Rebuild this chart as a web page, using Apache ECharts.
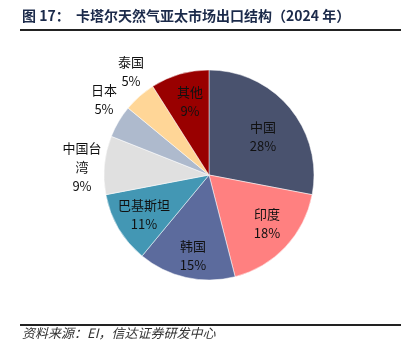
<!DOCTYPE html>
<html><head><meta charset="utf-8">
<style>html,body{margin:0;padding:0;background:#fff}#c{width:408px;height:363px}</style>
<script src="https://cdn.jsdelivr.net/npm/echarts@6/dist/echarts.min.js"></script>
</head><body><div id="c"></div>
<script>
const categories = ['中国', '印度', '韩国', '巴基斯坦', '中国台\n湾', '日本', '泰国', '其他'];
const values = [28, 18, 15, 11, 9, 5, 5, 9];
const colors = ['#49526E', '#FF8080', '#5C6B9D', '#4397B4', '#E0E0E0', '#AEBACD', '#FFD697', '#990000'];
const labelPos = [[263,137],[267,224],[193,256],[144,215],[82,167],[104,100],[131,72],[190,102]];
const titleText = '图 17：  卡塔尔天然气亚太市场出口结构（2024 年）';
const sourceText = '资料来源：EI，信达证券研发中心';

const chart = echarts.init(document.getElementById('c'));
chart.setOption({
  animation: false,
  graphic: [
    {type:'text', left:22, top:9, style:{text:titleText, font:'bold 14px "Noto Sans CJK SC"', fill:'#1b2a4a'}},
    {type:'line', shape:{x1:20,y1:30,x2:401,y2:30}, style:{stroke:'#222', lineWidth:2}},
    {type:'line', shape:{x1:20,y1:325,x2:401,y2:325}, style:{stroke:'#222', lineWidth:2}},
    {type:'text', left:22, top:327, style:{text:sourceText, font:'italic 13px "Noto Sans CJK SC"', fill:'#333'}}
  ],
  series: [{
    type: 'pie',
    center: [209, 175],
    radius: [0, 105],
    startAngle: 90,
    clockwise: true,
    data: categories.map((n, i) => ({name: n, value: values[i], itemStyle: {color: colors[i]}})),
    itemStyle: {borderColor: '#fff', borderWidth: 0.5},
    label: {
      show: true, position: 'inside',
      formatter: p => p.name + '\n' + p.value + '%',
      fontFamily: '"Noto Sans CJK SC"', fontSize: 13, lineHeight: 19, color: '#111', align: 'center'
    },
    labelLayout: p => ({x: labelPos[p.dataIndex][0], y: labelPos[p.dataIndex][1], align: 'center', verticalAlign: 'middle'}),
    labelLine: {show: false}
  }]
});
</script></body></html>
